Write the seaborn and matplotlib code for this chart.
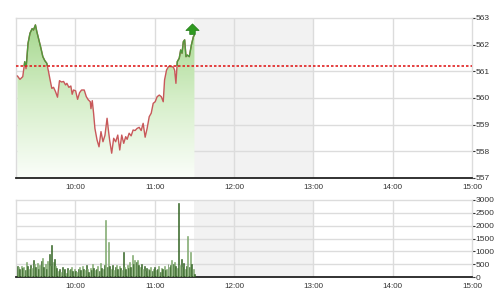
import numpy as np
import pandas as pd
import matplotlib
matplotlib.use("Agg")
import matplotlib.pyplot as plt
import seaborn as sns
from matplotlib.patches import Rectangle
from matplotlib.path import Path
from matplotlib.colors import LinearSegmentedColormap

# ---- data (minutes after 9:00) ----
price_minutes = [16.0, 18.0, 20.1, 21.6, 22.6, 24.1, 25.6, 27.2, 28.2, 29.7,
                 30.7, 32.2, 33.7, 35.3, 36.8, 38.3, 39.6, 40.8, 42.1, 43.4,
                 44.9, 46.4, 47.9, 49.4, 51.0, 52.5, 53.5, 55.0, 56.5, 57.5,
                 58.5, 60.1, 61.6, 63.1, 64.6, 66.6, 68.2, 69.7, 71.2, 71.7,
                 72.7, 73.7, 74.7, 76.3, 77.8, 79.3, 80.8, 82.3, 83.9, 84.9,
                 85.9, 87.4, 88.9, 90.4, 92.0, 93.5, 95.0, 96.5, 98.0, 99.1,
                 100.6, 102.1, 103.6, 105.1, 106.6, 108.2, 109.7, 111.2, 112.7, 114.2,
                 115.8, 117.3, 118.8, 120.3, 121.8, 123.4, 124.9, 126.4, 127.4, 128.9,
                 130.4, 132.5, 134.0, 135.0, 136.0, 137.0, 138.5, 139.6, 140.6, 141.6,
                 142.6, 143.6, 144.6, 146.1, 147.7, 149.2, 150.0]
price_values = [560.83, 560.70, 560.80, 561.36, 561.10, 562.05, 562.43, 562.60, 562.55, 562.74,
                562.50, 562.20, 561.90, 561.55, 561.40, 561.30, 560.99, 560.68, 560.36, 560.40,
                560.24, 560.03, 560.65, 560.60, 560.62, 560.49, 560.55, 560.40, 560.45, 560.14,
                560.30, 560.27, 559.95, 560.20, 560.30, 560.30, 560.05, 559.93, 559.86, 559.60,
                559.90, 559.43, 558.86, 558.43, 558.17, 558.74, 558.36, 558.60, 559.24, 558.80,
                558.40, 557.93, 558.49, 558.36, 558.61, 558.05, 558.61, 558.30, 558.55, 558.45,
                558.68, 558.58, 558.80, 558.78, 558.86, 558.90, 558.78, 559.05, 558.53, 558.86,
                559.30, 559.43, 559.80, 559.86, 560.05, 560.11, 560.05, 559.86, 560.68, 561.05,
                561.18, 561.18, 561.16, 561.05, 560.55, 561.36, 561.49, 561.80, 561.68, 562.11,
                562.18, 561.55, 561.61, 561.55, 561.99, 562.30, 562.36]
reference_price = 561.2

volume_start_minute = 16
volume_values = [420, 380, 300, 410, 350, 390, 280, 570, 420, 330,
                 480, 360, 680, 520, 400, 560, 300, 470, 610, 740,
                 380, 500, 300, 620, 885, 430, 1250, 580, 700, 420,
                 350, 250, 320, 200, 380, 280, 330, 150, 350, 270,
                 310, 400, 220, 330, 250, 180, 300, 380, 260, 420,
                 330, 270, 450, 310, 200, 360, 280, 500, 340, 270,
                 320, 410, 230, 560, 350, 300, 450, 2230, 380, 1380,
                 420, 320, 480, 260, 380, 470, 300, 410, 350, 290,
                 975, 380, 300, 450, 340, 600, 380, 845, 520, 650,
                 600, 660, 450, 380, 520, 300, 420, 250, 360, 310,
                 280, 400, 220, 330, 380, 260, 310, 420, 200, 350,
                 300, 420, 280, 330, 500, 380, 450, 650, 520, 600,
                 430, 350, 2870, 480, 690, 380, 550, 300, 420, 1600,
                 380, 975, 500, 320, 100]

tick_minutes = [60, 120, 180, 240, 300, 360]
tick_labels = ["10:00", "11:00", "12:00", "13:00", "14:00", "15:00"]
price_ticks = [557, 558, 559, 560, 561, 562, 563]
volume_ticks = [0, 500, 1000, 1500, 2000, 2500, 3000]
break_start, break_end = 150, 240
x_min, x_max = 15, 360

sns.set_theme(style="white")
plt.rcParams["font.family"] = ["Liberation Sans", "DejaVu Sans"]

fig = plt.figure(figsize=(5.01, 3.0), dpi=100)
ax1 = fig.add_axes([16/501, 1-178/300, 456/501, 160/300])
ax2 = fig.add_axes([16/501, 1-277/300, 456/501, 77/300])

grid_c = "#dcdcdc"
for ax, yt, ylim in [(ax1, price_ticks, (557, 563)), (ax2, volume_ticks, (0, 3000))]:
    ax.set_xlim(x_min, x_max)
    ax.set_ylim(*ylim)
    ax.axvspan(break_start, break_end, color="#f2f2f2", zorder=0, lw=0)
    for t in tick_minutes[:-1]:
        ax.axvline(t, color=grid_c, lw=1, zorder=0.5)
    for v in yt[1:-1]:
        ax.axhline(v, color=grid_c, lw=1, zorder=0.5)
    ax.set_xticks(tick_minutes)
    ax.set_xticklabels(tick_labels)
    ax.set_yticks(yt)
    ax.yaxis.tick_right()
    ax.tick_params(axis="y", labelsize=6, length=2, pad=0.5, colors="#333333", width=0.8)
    ax.tick_params(axis="x", labelsize=5.8, length=0, pad=4, colors="#333333")
    for s in ["top", "left", "right"]:
        ax.spines[s].set_color(grid_c)
        ax.spines[s].set_linewidth(1)
    ax.spines["bottom"].set_color("#222222")
    ax.spines["bottom"].set_linewidth(1.3)

# price gradient fill
df = pd.DataFrame({"t": price_minutes, "p": price_values})
poly = ax1.fill_between(df["t"], df["p"], 557, color="none", lw=0)
grad = np.linspace(0, 1, 256).reshape(-1, 1)
cmap = LinearSegmentedColormap.from_list("g", ["#fbfefa", "#d5eec8", "#a2d68a"])
im = ax1.imshow(grad, extent=[x_min, x_max, 557, 563], origin="lower", cmap=cmap,
                aspect="auto", zorder=1)
im.set_clip_path(poly.get_paths()[0], transform=ax1.transData)

# price line (red below reference, green above)
sns.lineplot(data=df, x="t", y="p", ax=ax1, color="#c8585a", lw=1.0, zorder=3)
sns.lineplot(data=df, x="t", y="p", ax=ax1, color="#4e9a3c", lw=1.0, zorder=4)
green_line = ax1.get_lines()[-1]
clip = Rectangle((x_min, reference_price), x_max - x_min, 563 - reference_price,
                 transform=ax1.transData, visible=False)
ax1.add_patch(clip)
green_line.set_clip_path(clip)
ax1.axhline(reference_price, color="#e02020", lw=1.2, ls=(0, (1.5, 1.2)), zorder=5)

# up arrow marker at end
arrow = Path([(-1, 0), (0, 1.0), (1, 0), (0.42, 0), (0.42, -0.6), (-0.42, -0.6), (-0.42, 0), (-1, 0)],
             [Path.MOVETO] + [Path.LINETO] * 6 + [Path.CLOSEPOLY])
ax1.plot([price_minutes[-1] - 1.5], [562.55], marker=arrow, ms=9.5, color="#2f9a20",
         mec="#217a15", mew=0.5, zorder=6)
ax1.set_xlabel("")
ax1.set_ylabel("")

# volume bars
vol_t = [volume_start_minute + i for i in range(len(volume_values))]
colors = ["#356626" if i % 2 == 0 else "#7ea86d" for i in range(len(volume_values))]
ax2.bar(vol_t, volume_values, width=0.75, color=colors, edgecolor=colors, lw=0.4, zorder=3)

fig.savefig("out.png", dpi=100)
